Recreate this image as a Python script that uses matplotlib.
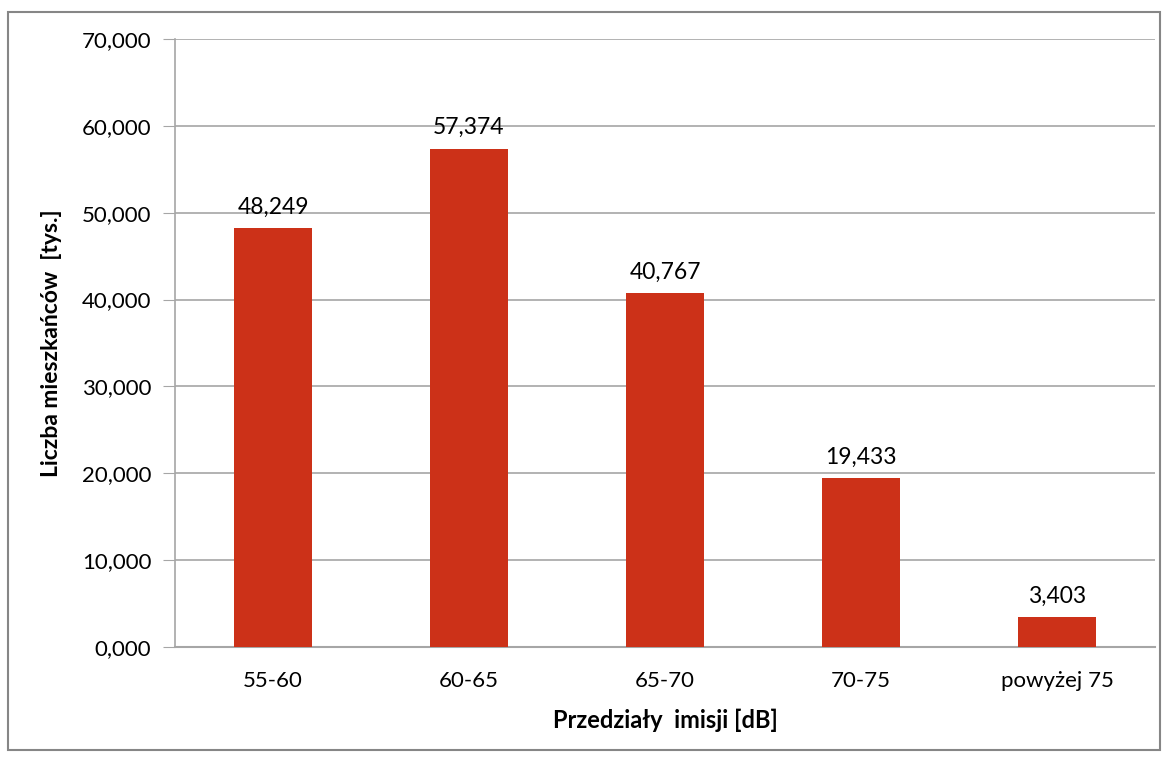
import matplotlib.pyplot as plt
import numpy as np
from matplotlib.patches import Rectangle

categories = ["55-60", "60-65", "65-70", "70-75", "powyżej 75"]
values = [48.249, 57.374, 40.767, 19.433, 3.403]
yticks = [0, 10, 20, 30, 40, 50, 60, 70]


def _fmt(v):
    return f"{v:,.3f}".replace(".", ",")


plt.rcParams["font.family"] = ["Lato", "DejaVu Sans"]

fig = plt.figure(figsize=(11.7, 7.6), dpi=100)
ax = fig.add_axes([175 / 1170, 1 - 647 / 760, 980 / 1170, 608 / 760])

# ramka wokół całego wykresu
fig.patches.append(Rectangle((8 / 1170, 10 / 760), 1152 / 1170, 738 / 760,
                             transform=fig.transFigure, fill=False,
                             edgecolor="#868686", linewidth=1.5))

x = np.arange(len(categories))
ax.bar(x, values, width=0.4, color="#CC3118", zorder=3)
for xi, v in zip(x, values):
    ax.text(xi, v + 1.2, _fmt(v), ha="center", va="bottom", fontsize=16.5, color="#000000")

ax.set_xlim(-0.5, len(categories) - 0.5)
ax.set_ylim(0, 70)
ax.set_yticks(yticks)
ax.set_yticklabels([_fmt(v) for v in yticks], fontsize=16)
ax.set_xticks(x)
ax.set_xticklabels(categories, fontsize=16)
ax.tick_params(axis="y", length=9, color="#A6A6A6", pad=8)
ax.tick_params(axis="x", length=0, pad=17)

ax.grid(axis="y", color="#A6A6A6", linewidth=1.2, zorder=0)
for s in ["top", "right"]:
    ax.spines[s].set_visible(False)
ax.spines["left"].set_color("#A6A6A6")
ax.spines["bottom"].set_color("#A6A6A6")
ax.spines["left"].set_linewidth(1.2)
ax.spines["bottom"].set_linewidth(1.5)

ax.set_xlabel("Przedziały  imisji [dB]", fontsize=17, fontweight="bold", labelpad=13)
ax.set_ylabel("Liczba mieszkańców  [tys.]", fontsize=16.5, fontweight="bold", labelpad=14)

fig.savefig("out.png", dpi=100)
